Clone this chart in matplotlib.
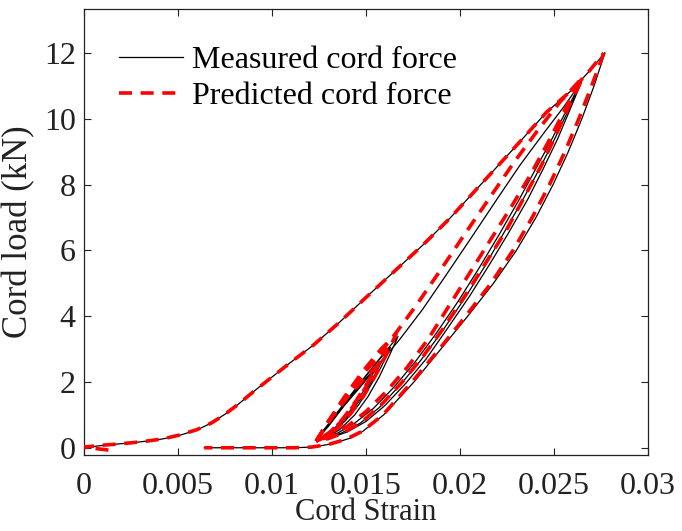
import matplotlib
matplotlib.use("Agg")
import matplotlib.pyplot as plt

# ---------------- measured cord force (kN) vs cord strain ----------------
# initial loading branch
meas_load0_x = [0.0, 0.0008, 0.0015, 0.0025, 0.0033, 0.0042, 0.0051, 0.0060, 0.0068, 0.0075,
                0.0082, 0.0090, 0.0100, 0.0110, 0.0122, 0.0136, 0.0150, 0.0165, 0.0180, 0.0195,
                0.0211, 0.0228, 0.0246, 0.0259, 0.0268, 0.0277]
meas_load0_y = [0.0, 0.06, 0.10, 0.15, 0.20, 0.27, 0.38, 0.54, 0.76, 1.02,
                1.32, 1.70, 2.15, 2.60, 3.12, 3.82, 4.57, 5.36, 6.15, 7.00,
                8.00, 9.06, 10.20, 10.85, 11.40, 12.00]

# unloading from the 12 kN peak down to slack
meas_unload0_x = [0.0277, 0.02713, 0.02648, 0.02576, 0.02495, 0.02404, 0.0230, 0.02178, 0.02041, 0.01898,
                  0.01755, 0.01594, 0.01483, 0.0142, 0.01326, 0.0126, 0.0120, 0.0112, 0.0064]
meas_unload0_y = [12.0, 11.0, 10.0, 9.0, 8.0, 7.0, 6.0, 5.0, 4.0, 3.0,
                  2.0, 1.0, 0.5, 0.30, 0.13, 0.06, 0.02, 0.0, 0.0]

# reloading branch from the lower turning point to ~11 kN
meas_reload_x = [0.01235, 0.0130, 0.0138, 0.0147, 0.0157, 0.0168, 0.0180, 0.0192, 0.0205, 0.0219,
                 0.0232, 0.0245, 0.0255, 0.0264]
meas_reload_y = [0.24, 0.65, 1.25, 1.85, 2.55, 3.30, 4.20, 5.20, 6.30, 7.50,
                 8.60, 9.60, 10.35, 11.08]

# unloading branches from ~11 kN (three cycles)
meas_unload1_x = [0.0264, 0.0257, 0.0249, 0.0240, 0.0231, 0.0221, 0.0210, 0.0199, 0.0187, 0.0176,
                  0.0165, 0.0154, 0.0144, 0.0135, 0.0128, 0.01235]
meas_unload1_y = [11.08, 10.3, 9.4, 8.45, 7.5, 6.5, 5.45, 4.45, 3.45, 2.6,
                  1.85, 1.2, 0.75, 0.45, 0.30, 0.24]
meas_unload2_x = [0.0264, 0.0258, 0.0250, 0.0242, 0.0233, 0.0223, 0.0213, 0.0202, 0.0190, 0.0179,
                  0.0168, 0.0157, 0.0147, 0.0137, 0.0129, 0.01235]
meas_unload2_y = [11.08, 10.3, 9.35, 8.45, 7.5, 6.5, 5.5, 4.5, 3.5, 2.65,
                  1.9, 1.22, 0.75, 0.45, 0.29, 0.24]
meas_unload3_x = [0.02645, 0.0259, 0.0252, 0.0244, 0.0236, 0.0226, 0.0216, 0.0205, 0.0193, 0.0182,
                  0.0171, 0.0160, 0.0150, 0.0140, 0.0131, 0.01235]
meas_unload3_y = [11.1, 10.35, 9.4, 8.45, 7.55, 6.55, 5.6, 4.6, 3.6, 2.7,
                  1.95, 1.28, 0.80, 0.48, 0.30, 0.24]

# small cycles near the lower turning point (load up, then unload)
meas_small1_x = [0.01235, 0.0130, 0.0140, 0.0150, 0.0160, 0.0167, 0.0162, 0.0157, 0.0151, 0.0144, 0.0136, 0.0129, 0.01235]
meas_small1_y = [0.24, 0.72, 1.47, 2.20, 2.90, 3.38, 2.75, 2.15, 1.55, 1.00, 0.55, 0.32, 0.24]
meas_small2_x = [0.01235, 0.0131, 0.0141, 0.0151, 0.0158, 0.0163, 0.0158, 0.0152, 0.0146, 0.0139, 0.0132, 0.0127, 0.01235]
meas_small2_y = [0.24, 0.78, 1.52, 2.25, 2.75, 3.05, 2.45, 1.85, 1.30, 0.82, 0.45, 0.30, 0.24]
meas_small3_x = [0.01235, 0.0130, 0.0140, 0.0150, 0.0159, 0.0154, 0.0148, 0.0141, 0.0134, 0.0128, 0.01235]
meas_small3_y = [0.24, 0.70, 1.42, 2.10, 2.70, 2.12, 1.55, 1.00, 0.58, 0.33, 0.24]
meas_small4_x = [0.01235, 0.0131, 0.0141, 0.0150, 0.0155, 0.0150, 0.0144, 0.0137, 0.0130, 0.01235]
meas_small4_y = [0.24, 0.75, 1.50, 2.10, 2.40, 1.85, 1.30, 0.80, 0.42, 0.24]

# ---------------- predicted cord force ----------------
pred_load0_x = [0.0013, 0.0, 0.0008, 0.0015, 0.0025, 0.0033, 0.0042, 0.0051, 0.0060, 0.0068, 0.0075,
                0.0082, 0.0090, 0.0100, 0.0110, 0.0122, 0.0136, 0.0150, 0.0165, 0.0180, 0.0195,
                0.0211, 0.0228, 0.0246, 0.0259, 0.0268, 0.02765]
pred_load0_y = [-0.07, 0.02, 0.07, 0.10, 0.15, 0.20, 0.27, 0.39, 0.55, 0.76, 1.02,
                1.32, 1.70, 2.15, 2.60, 3.12, 3.82, 4.57, 5.36, 6.15, 7.00,
                8.00, 9.06, 10.20, 10.85, 11.40, 12.00]
pred_unload0_x = [0.02765, 0.0270, 0.02632, 0.02558, 0.02476, 0.02384, 0.02282, 0.02165, 0.0203, 0.0189,
                  0.01745, 0.0159, 0.0148, 0.0139, 0.0130, 0.0121, 0.0112, 0.0064]
pred_unload0_y = [12.0, 11.0, 10.0, 9.0, 8.0, 7.0, 6.0, 5.0, 4.0, 3.0,
                  2.0, 1.0, 0.5, 0.25, 0.10, 0.02, 0.0, 0.0]
pred_reload_x = [0.01235, 0.0129, 0.0136, 0.0144, 0.0154, 0.0165, 0.0177, 0.0189, 0.0202, 0.0216,
                 0.0229, 0.0242, 0.0253, 0.02635]
pred_reload_y = [0.20, 0.70, 1.30, 1.95, 2.65, 3.42, 4.35, 5.35, 6.45, 7.62,
                 8.70, 9.70, 10.50, 11.15]
pred_unload1_x = [0.02635, 0.0256, 0.0247, 0.0237, 0.0227, 0.0216, 0.0205, 0.0194, 0.0183, 0.0172,
                  0.0161, 0.0150, 0.0140, 0.0131, 0.01235]
pred_unload1_y = [11.15, 10.3, 9.3, 8.25, 7.3, 6.3, 5.3, 4.3, 3.3, 2.45,
                  1.72, 1.10, 0.65, 0.35, 0.20]
pred_unload2_x = [0.0264, 0.0258, 0.0251, 0.0243, 0.0234, 0.0225, 0.0214, 0.0203, 0.0191, 0.0180,
                  0.0169, 0.0158, 0.0148, 0.0138, 0.0130, 0.01235]
pred_unload2_y = [11.1, 10.4, 9.5, 8.55, 7.6, 6.65, 5.65, 4.65, 3.62, 2.75,
                  1.98, 1.30, 0.80, 0.45, 0.28, 0.20]
pred_small1_x = [0.01235, 0.0129, 0.0138, 0.0148, 0.0158, 0.0166, 0.0161, 0.0155, 0.0149, 0.0142, 0.0135, 0.0128, 0.01235]
pred_small1_y = [0.20, 0.72, 1.50, 2.30, 3.00, 3.45, 2.85, 2.20, 1.60, 1.05, 0.60, 0.32, 0.20]
pred_small2_x = [0.01235, 0.0130, 0.0140, 0.0150, 0.0161, 0.0156, 0.0150, 0.0143, 0.0136, 0.0129, 0.01235]
pred_small2_y = [0.20, 0.80, 1.60, 2.35, 3.00, 2.45, 1.85, 1.25, 0.75, 0.38, 0.20]
pred_small3_x = [0.01235, 0.0131, 0.0141, 0.0150, 0.0156, 0.0151, 0.0145, 0.0138, 0.0131, 0.01235]
pred_small3_y = [0.20, 0.85, 1.60, 2.15, 2.50, 2.00, 1.45, 0.90, 0.48, 0.20]

x_ticks = [0, 0.005, 0.01, 0.015, 0.02, 0.025, 0.03]
x_tick_labels = ["0", "0.005", "0.01", "0.015", "0.02", "0.025", "0.03"]
y_ticks = [0, 2, 4, 6, 8, 10, 12]
y_tick_labels = ["0", "2", "4", "6", "8", "10", "12"]

measured = [
    (meas_load0_x, meas_load0_y), (meas_unload0_x, meas_unload0_y),
    (meas_reload_x, meas_reload_y), (meas_unload1_x, meas_unload1_y),
    (meas_unload2_x, meas_unload2_y), (meas_unload3_x, meas_unload3_y),
    (meas_small1_x, meas_small1_y), (meas_small2_x, meas_small2_y),
    (meas_small3_x, meas_small3_y), (meas_small4_x, meas_small4_y),
]
predicted = [
    (pred_load0_x, pred_load0_y), (pred_unload0_x, pred_unload0_y),
    (pred_reload_x, pred_reload_y), (pred_unload1_x, pred_unload1_y),
    (pred_unload2_x, pred_unload2_y), (pred_small1_x, pred_small1_y),
    (pred_small2_x, pred_small2_y), (pred_small3_x, pred_small3_y),
]

plt.rcParams["font.family"] = ["Liberation Serif", "DejaVu Serif"]

ink = "#222222"
fig = plt.figure(figsize=(6.82, 5.31), dpi=100)
ax = fig.add_axes([84 / 682, 1 - 455 / 531, 564 / 682, 446 / 531])

for i, (xs, ys) in enumerate(measured):
    ax.plot(xs, ys, color="black", lw=0.9, solid_joinstyle="round",
            label="Measured cord force" if i == 0 else None, zorder=2)
for i, (xs, ys) in enumerate(predicted):
    ax.plot(xs, ys, color="#ff0000", lw=2.6, linestyle=(0, (3.6, 2.4)),
            label="Predicted cord force" if i == 0 else None, zorder=3)

ax.set_xlim(0, 0.03)
ax.set_ylim(-0.22, 13.34)
ax.set_xticks(x_ticks)
ax.set_xticklabels(x_tick_labels)
ax.set_yticks(y_ticks)
ax.set_yticklabels(y_tick_labels)
ax.tick_params(direction="in", length=5, width=0.8, top=True, right=True,
               labelsize=23, colors=ink)
ax.tick_params(axis="x", pad=12)
ax.tick_params(axis="y", pad=6)
for s in ax.spines.values():
    s.set_linewidth(0.9)
    s.set_color(ink)

ax.set_xlabel("Cord Strain", fontsize=22, labelpad=-2, color=ink)
ax.set_ylabel("Cord load (kN)", fontsize=25, labelpad=6, color=ink)

leg = ax.legend(loc="upper left", bbox_to_anchor=(0.0615, 0.918), frameon=False,
                fontsize=23, handlelength=2.0, handletextpad=0.28,
                labelspacing=0.22, borderpad=0, borderaxespad=0)

fig.savefig("out.png", dpi=100)
